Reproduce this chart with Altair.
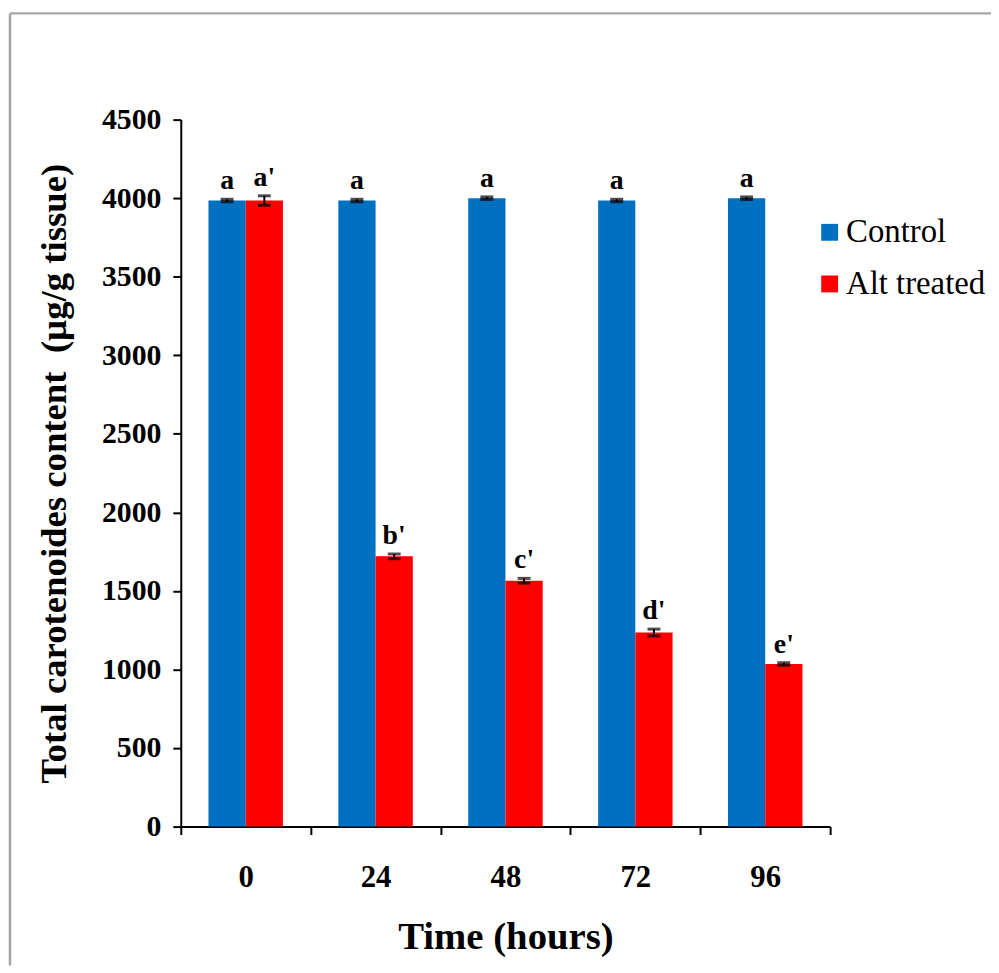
import altair as alt
import pandas as pd

times = ["0", "24", "48", "72", "96"]
groups = ["Control", "Alt treated"]
control_vals = [3985, 3985, 4000, 3985, 4000]
alt_vals = [3985, 1720, 1565, 1235, 1035]
control_err = [8, 8, 8, 8, 8]
alt_err = [30, 15, 15, 22, 8]
control_letters = ["a", "a", "a", "a", "a"]
alt_letters = ["a'", "b'", "c'", "d'", "e'"]
y_ticks = [0, 500, 1000, 1500, 2000, 2500, 3000, 3500, 4000, 4500]

rows = []
for i, t in enumerate(times):
    rows.append(dict(time=t, group="Control", value=control_vals[i], err=control_err[i], letter=control_letters[i]))
    rows.append(dict(time=t, group="Alt treated", value=alt_vals[i], err=alt_err[i], letter=alt_letters[i]))
df = pd.DataFrame(rows)
df["lo"] = df["value"] - df["err"]
df["hi"] = df["value"] + df["err"]

FONT = "Liberation Serif"
YTITLE = "Total carotenoides content\u00a0\u00a0(µg/g tissue)"

x_enc = alt.X(
    "time:N", sort=times,
    scale=alt.Scale(paddingInner=0, paddingOuter=0),
    axis=alt.Axis(
        title="Time (hours)", labelAngle=0, tickBand="extent",
        labelFont=FONT, labelFontWeight="bold", labelFontSize=31, labelColor="black",
        labelPadding=28, tickSize=8, tickWidth=2, tickColor="black",
        domainColor="black", domainWidth=2,
        titleFont=FONT, titleFontWeight="bold", titleFontSize=39, titleColor="black",
        titleY=111, titleBaseline="middle", titleLimit=900,
    ),
)
xoff = alt.XOffset("group:N", sort=groups, scale=alt.Scale(paddingInner=0, paddingOuter=0.744))

y_scale = alt.Scale(domain=[0, 4500], nice=False)
y_axis = alt.Axis(
    values=y_ticks, grid=False, format="d",
    labelFont=FONT, labelFontWeight="bold", labelFontSize=30, labelColor="black",
    labelPadding=12, tickSize=8, tickWidth=2, tickColor="black",
    domainColor="black", domainWidth=2,
    titleFont=FONT, titleFontWeight="bold", titleFontSize=37, titleColor="black",
    titleX=-127, titleY=356, titleAngle=-90, titleAlign="center", titleBaseline="middle",
    titleLimit=900,
)

base = alt.Chart(df).encode(x=x_enc, xOffset=xoff)

bars = base.mark_bar().encode(
    y=alt.Y("value:Q", scale=y_scale, axis=y_axis, title=YTITLE),
    color=alt.Color(
        "group:N", sort=groups,
        scale=alt.Scale(domain=groups, range=["#0070C0", "#FF0000"]),
        legend=alt.Legend(
            title=None, orient="none", legendX=637, legendY=97,
            symbolType="square", symbolSize=289, symbolStrokeWidth=0,
            labelFont=FONT, labelFontSize=33, labelColor="black",
            labelOffset=0, rowPadding=18, labelLimit=300,
        ),
    ),
)

err_rule = base.mark_rule(color="black", strokeWidth=2).encode(
    y=alt.Y("lo:Q", scale=y_scale, title=YTITLE), y2="hi:Q"
)
cap_hi = base.mark_tick(color="black", size=13, thickness=3).encode(
    y=alt.Y("hi:Q", scale=y_scale, title=YTITLE)
)
cap_lo = base.mark_tick(color="black", size=13, thickness=3).encode(
    y=alt.Y("lo:Q", scale=y_scale, title=YTITLE)
)
letters = base.mark_text(
    baseline="bottom", dy=-4, font=FONT, fontWeight="bold", fontSize=28, color="black"
).encode(
    y=alt.Y("hi:Q", scale=y_scale, title=YTITLE), text="letter:N"
)

frame_df = pd.DataFrame({"k": [0]})
left_line = alt.Chart(frame_df).mark_rule(color="#A6A6A6", strokeWidth=2.5).encode(
    x=alt.value(-172), y=alt.value(-107), y2=alt.value(852)
)
top_line = alt.Chart(frame_df).mark_rule(color="#A6A6A6", strokeWidth=2.5).encode(
    x=alt.value(-172), x2=alt.value(830), y=alt.value(-107)
)

chart = alt.layer(bars, err_rule, cap_hi, cap_lo, letters, left_line, top_line).properties(
    width=654, height=712,
    autosize=alt.AutoSizeParams(type="none"),
    padding={"left": 174, "top": 109, "right": 162, "bottom": 140},
).configure(background="white").configure_view(stroke=None, strokeWidth=0)

chart.save("out.html", embed_options={"renderer": "svg", "actions": False})
